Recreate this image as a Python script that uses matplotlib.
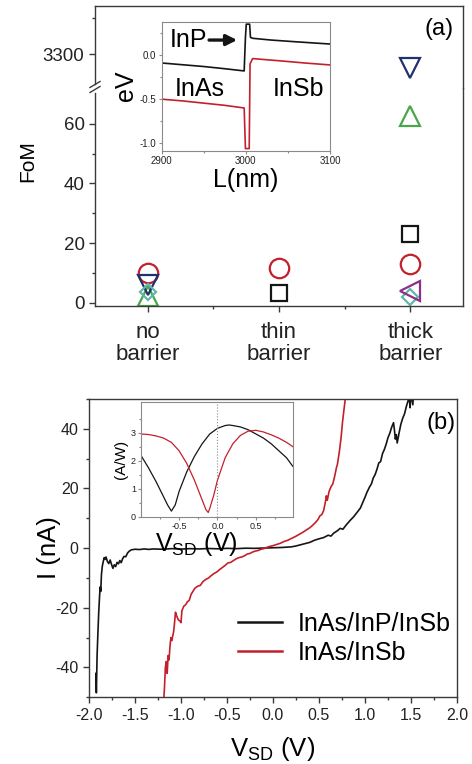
import numpy as np
import matplotlib
matplotlib.use('Agg')
import matplotlib.pyplot as plt
from matplotlib.lines import Line2D
from matplotlib.ticker import MultipleLocator, FixedLocator

plt.rcParams['font.family'] = ['Liberation Sans', 'DejaVu Sans']
plt.rcParams['mathtext.default'] = 'regular'
plt.rcParams['axes.unicode_minus'] = False

# ---------------- data: panel (a) ----------------
categories = ['no\nbarrier', 'thin\nbarrier', 'thick\nbarrier']
fom_circle = [10.0, 11.5, 13.0]
fom_square = [np.nan, 3.2, 23.0]
fom_up = [2.4, np.nan, 62.5]
fom_down = [5.9, np.nan, 3280.0]
fom_diamond = [3.7, np.nan, 2.0]
fom_left = [np.nan, np.nan, 3.8]

# inset (a): band profile
band_L_black = [2900, 2925, 2950, 2975, 2998, 2999.5, 3000.5, 3004.5, 3005.5, 3008, 3030, 3060, 3100]
band_E_black = [-0.09, -0.11, -0.13, -0.155, -0.18, 0.2, 0.35, 0.35, 0.2, 0.19, 0.17, 0.15, 0.125]
band_L_red = [2900, 2925, 2950, 2975, 2998, 2999.5, 3001, 3004, 3005, 3008, 3040, 3070, 3100]
band_E_red = [-0.5, -0.52, -0.545, -0.57, -0.6, -1.06, -1.06, -1.06, -0.1, -0.04, -0.065, -0.09, -0.112]

# ---------------- data: panel (b) ----------------
iv_V_black = [-1.925, -1.92, -1.912, -1.905, -1.895, -1.885, -1.878, -1.872, -1.865, -1.855, -1.845,
              -1.835, -1.825, -1.815, -1.80, -1.785, -1.77, -1.755, -1.74, -1.725, -1.71, -1.695,
              -1.68, -1.665, -1.65, -1.635, -1.62, -1.60, -1.58, -1.56, -1.54, -1.50, -1.45, -1.40,
              -1.35, -1.30, -1.2, -1.1, -1.0, -0.9, -0.8, -0.7, -0.6, -0.5, -0.4, -0.3, -0.2, -0.1,
              0.0, 0.1, 0.2, 0.25, 0.3, 0.35, 0.4, 0.45, 0.5, 0.55, 0.6, 0.63, 0.66, 0.7, 0.73,
              0.76, 0.8, 0.84, 0.88, 0.92, 0.95, 0.98, 1.0, 1.02, 1.05, 1.07, 1.09, 1.11, 1.13,
              1.15, 1.17, 1.19, 1.21, 1.23, 1.25, 1.27, 1.29, 1.31, 1.32, 1.33, 1.34, 1.35, 1.37,
              1.39, 1.41, 1.43, 1.45, 1.47, 1.48, 1.49, 1.50, 1.52, 1.53]
iv_I_black = [-42, -48.5, -36, -30, -22, -16, -13, -14.5, -9, -6, -4.5,
              -3.2, -3.8, -3.0, -4.5, -5.2, -4.0, -5.5, -6.8, -5.6, -6.2, -4.8,
              -5.3, -4.2, -4.9, -3.6, -2.8, -2.9, -1.6, -1.0, -0.6, -0.4, -0.5, -0.3,
              -0.45, -0.3, -0.4, -0.2, -0.35, -0.2, -0.3, -0.15, -0.25, -0.1, -0.2, -0.05, -0.1, 0.0,
              0.1, 0.2, 0.4, 0.7, 1.1, 1.5, 1.9, 2.6, 3.1, 3.5, 4.3, 4.0, 5.0, 5.8, 6.6,
              6.3, 7.9, 9.3, 10.6, 12.2, 13.4, 15.6, 17.0, 18.6, 20.5, 21.5, 23.5, 24.6, 26.4,
              28.5, 29.0, 31.6, 33.0, 34.8, 37.0, 38.5, 40.5, 42.0, 39.5, 36.5, 38.0, 35.2, 38.5,
              41.5, 43.5, 45.0, 47.5, 49.5, 51, 47, 52, 48, 53]

iv_V_red = [-1.19, -1.18, -1.17, -1.16, -1.15, -1.14, -1.13, -1.12, -1.11, -1.10, -1.08, -1.07,
            -1.06, -1.05, -1.03, -1.01, -1.0, -0.99, -0.97, -0.95, -0.93, -0.91, -0.89, -0.87,
            -0.85, -0.82, -0.79, -0.76, -0.73, -0.70, -0.67, -0.64, -0.61, -0.58, -0.55, -0.52,
            -0.49, -0.46, -0.43, -0.40, -0.37, -0.34, -0.31, -0.28, -0.25, -0.22, -0.19, -0.16,
            -0.13, -0.10, -0.07, -0.04, 0.0, 0.04, 0.08, 0.12, 0.16, 0.2, 0.24, 0.28, 0.32, 0.36,
            0.40, 0.43, 0.46, 0.49, 0.51, 0.53, 0.55, 0.57, 0.58, 0.59, 0.61, 0.63, 0.65, 0.67,
            0.69, 0.70, 0.72, 0.74, 0.755, 0.77, 0.79]
iv_I_red = [-52, -47, -40, -38, -42, -36, -37.5, -33, -30, -31, -28, -25,
            -21.5, -22.5, -24, -24.5, -25, -21, -19.5, -19, -18, -17.5, -15.5, -14.5,
            -13.5, -12.8, -12.5, -11.2, -10.5, -10.0, -9.2, -8.5, -8.0, -7.2, -6.5, -5.8,
            -5.0, -4.8, -4.2, -3.6, -3.2, -3.0, -2.6, -2.0, -1.8, -1.3, -1.0, -0.8,
            -0.4, -0.2, 0.2, 0.5, 0.8, 1.2, 1.6, 2.2, 2.6, 3.2, 3.8, 4.5, 5.2, 6.0,
            6.8, 7.6, 8.5, 9.6, 10.8, 11.2, 12.5, 15.5, 17.5, 16.0, 19.0, 20.5, 21.5, 24.0,
            27.0, 28.0, 32.0, 37.0, 42.0, 46.0, 51]

# inset (b): responsivity
resp_V = [-1.0, -0.9, -0.8, -0.7, -0.65, -0.6, -0.55, -0.5, -0.4, -0.3, -0.2, -0.1, 0.0, 0.1,
          0.15, 0.2, 0.3, 0.4, 0.5, 0.6, 0.7, 0.8, 0.9, 0.98]
resp_black = [2.2, 1.75, 1.25, 0.7, 0.42, 0.2, 0.42, 0.9, 1.6, 2.15, 2.6, 2.95, 3.15, 3.25,
              3.27, 3.25, 3.2, 3.1, 2.95, 2.8, 2.6, 2.35, 2.1, 1.8]
resp_V_red = [-1.0, -0.9, -0.8, -0.7, -0.6, -0.5, -0.4, -0.3, -0.2, -0.15, -0.12, -0.1, -0.05,
              0.0, 0.1, 0.2, 0.3, 0.4, 0.5, 0.6, 0.7, 0.8, 0.9, 0.98]
resp_red = [2.95, 2.93, 2.88, 2.8, 2.65, 2.35, 1.9, 1.3, 0.6, 0.25, 0.15, 0.3, 0.75, 1.3, 2.1,
            2.6, 2.9, 3.05, 3.08, 3.02, 2.92, 2.8, 2.65, 2.5]

legend_labels = ['InAs/InP/InSb', 'InAs/InSb']

# ---------------- styling ----------------
RED = '#c4202b'
BLACK = '#151515'
SPINE = '#3a3a3a'
GREY = '#8a8a8a'

W, H = 472, 764
fig = plt.figure(figsize=(W / 100, H / 100), dpi=100)


def fr(l, t, r, b):
    return [l / W, 1 - b / H, (r - l) / W, (b - t) / H]


def style_axes(ax, color=SPINE, lw=1.0, size=12, tl=4, tlm=2.5):
    for s in ax.spines.values():
        s.set_color(color)
        s.set_linewidth(lw)
    ax.tick_params(which='both', direction='out', color=color, labelcolor='#222222',
                   labelsize=size, width=lw)
    ax.tick_params(which='major', length=tl)
    ax.tick_params(which='minor', length=tlm)


# ----- panel (a) -----
axL = fig.add_axes(fr(95, 88, 463, 305.7))
axU = fig.add_axes(fr(95, 6, 463, 88), sharex=axL)
x_pos = np.arange(1, len(categories) + 1)

series = [
    (fom_circle, 'o', RED, 14),
    (fom_square, 's', BLACK, 11),
    (fom_up, '^', '#4aa64a', 14),
    (fom_down, 'v', '#23306e', 14),
    (fom_diamond, 'D', '#5fb8aa', 8),
    (fom_left, '<', '#8a2f8a', 14),
]
for ax in (axL, axU):
    for vals, mk, col, ms in series:
        ax.plot(x_pos, vals, linestyle='none', marker=mk, ms=ms, mfc='none',
                mec=col, mew=1.6, clip_on=True)

axL.set_xlim(0.6, 3.4)
axL.set_ylim(-1, 72)
axU.set_ylim(3252.8, 3366.7)
style_axes(axL, size=13.5)
style_axes(axU, size=13.5)
axL.set_xticks(x_pos)
axL.set_xticklabels(categories, fontsize=16, linespacing=1.05)
axL.xaxis.set_minor_locator(FixedLocator([1.5, 2.5]))
axL.yaxis.set_major_locator(FixedLocator([0, 20, 40, 60]))
axL.yaxis.set_minor_locator(FixedLocator([10, 30, 50]))
axL.tick_params(axis='x', which='major', pad=8)
axU.yaxis.set_major_locator(FixedLocator([3300]))
axU.yaxis.set_minor_locator(FixedLocator([3350]))
axU.tick_params(axis='x', which='both', bottom=False, labelbottom=False)
axL.spines['top'].set_visible(False)
axU.spines['bottom'].set_visible(False)
axL.spines['left'].set_bounds(-1, 70.3)
axU.spines['left'].set_bounds(3258, 3366.7)
# break marks
for dy in (-2.5, 2.5):
    fig.add_artist(Line2D([90 / W, 100 / W], [1 - (90 + dy) / H, 1 - (84 + dy) / H],
                          color=SPINE, lw=1.0))
fig.text(28 / W, 1 - 161 / H, 'FoM', rotation=90, ha='center', va='center', fontsize=15)
fig.text(439 / W, 1 - 29 / H, '(a)', ha='center', va='center', fontsize=17)

# inset (a)
axi = fig.add_axes(fr(161.7, 21.7, 330, 150.7))
axi.plot(band_L_black, band_E_black, color=BLACK, lw=1.2)
axi.plot(band_L_red, band_E_red, color=RED, lw=1.2)
axi.set_xlim(2900, 3100)
axi.set_ylim(-1.084, 0.378)
style_axes(axi, color=GREY, lw=0.8, size=7, tl=2.5, tlm=1.5)
axi.set_xticks([2900, 3000, 3100])
axi.xaxis.set_minor_locator(FixedLocator([2950, 3050]))
axi.set_yticks([0.0, -0.5, -1.0])
axi.set_yticklabels(['0.0', '-0.5', '-1.0'])
axi.yaxis.set_minor_locator(FixedLocator([0.25, -0.25, -0.75]))
axi.tick_params(pad=1.5)
axi.set_xlabel('L(nm)', fontsize=18, labelpad=1)
axi.set_ylabel('eV', fontsize=18, labelpad=1)
axi.text(2910, 0.17, 'InP', fontsize=18, va='center', ha='left')
axi.annotate('', xy=(2993, 0.17), xytext=(2953, 0.17),
             arrowprops=dict(arrowstyle='-|>', color=BLACK, lw=2.4, mutation_scale=16))
axi.text(2916, -0.38, 'InAs', fontsize=18, va='center', ha='left')
axi.text(3032, -0.38, 'InSb', fontsize=18, va='center', ha='left')

# ----- panel (b) -----
axb = fig.add_axes(fr(89, 398.8, 457, 697.3))
axb.plot(iv_V_black, iv_I_black, color=BLACK, lw=1.2, label=legend_labels[0])
axb.plot(iv_V_red, iv_I_red, color=RED, lw=1.2, label=legend_labels[1])
axb.set_xlim(-2, 2)
axb.set_ylim(-50, 50)
style_axes(axb, size=11.5)
axb.xaxis.set_major_locator(MultipleLocator(0.5))
axb.xaxis.set_minor_locator(MultipleLocator(0.25))
axb.yaxis.set_major_locator(MultipleLocator(20))
axb.yaxis.set_minor_locator(MultipleLocator(10))
axb.xaxis.set_major_formatter(plt.FuncFormatter(lambda v, p: f'{v:.1f}'))
axb.set_xlabel('V$_{SD}$ (V)', fontsize=18.5, labelpad=9)
axb.set_ylabel('I (nA)', fontsize=18.5, labelpad=-4)
axb.text(441 / W, 1 - 423 / H, '(b)', transform=fig.transFigure, ha='center',
         va='center', fontsize=17)
leg = axb.legend(loc='upper left', bbox_to_anchor=((238 - 89) / 368, (697.3 - 612) / 298.5),
                 frameon=False, fontsize=18, handlelength=1.75, handletextpad=0.65,
                 labelspacing=0.2, borderpad=0, borderaxespad=0)
for line in leg.get_lines():
    line.set_linewidth(1.8)

# inset (b)
axr = fig.add_axes(fr(140.7, 401.7, 292.7, 516.7))
axr.plot(resp_V, resp_black, color=BLACK, lw=0.9)
axr.plot(resp_V_red, resp_red, color=RED, lw=0.9)
axr.axvline(0, color=GREY, lw=0.8, ls=':')
axr.set_xlim(-1.0, 0.98)
axr.set_ylim(0, 4.1)
style_axes(axr, color=GREY, lw=0.8, size=6.5, tl=2.5, tlm=1.5)
axr.set_xticks([-0.5, 0.0, 0.5])
axr.xaxis.set_minor_locator(FixedLocator([-0.75, -0.25, 0.25, 0.75]))
axr.set_yticks([0, 1, 2, 3])
axr.yaxis.set_minor_locator(FixedLocator([0.5, 1.5, 2.5, 3.5]))
axr.tick_params(pad=1.0)
axr.set_xlabel('V$_{SD}$ (V)', fontsize=18, labelpad=-2)
axr.xaxis.set_label_coords((196 - 140.7) / 152, -0.115)
axr.set_ylabel('(A/W)', fontsize=11, labelpad=2)

fig.savefig('out.png', dpi=100)
